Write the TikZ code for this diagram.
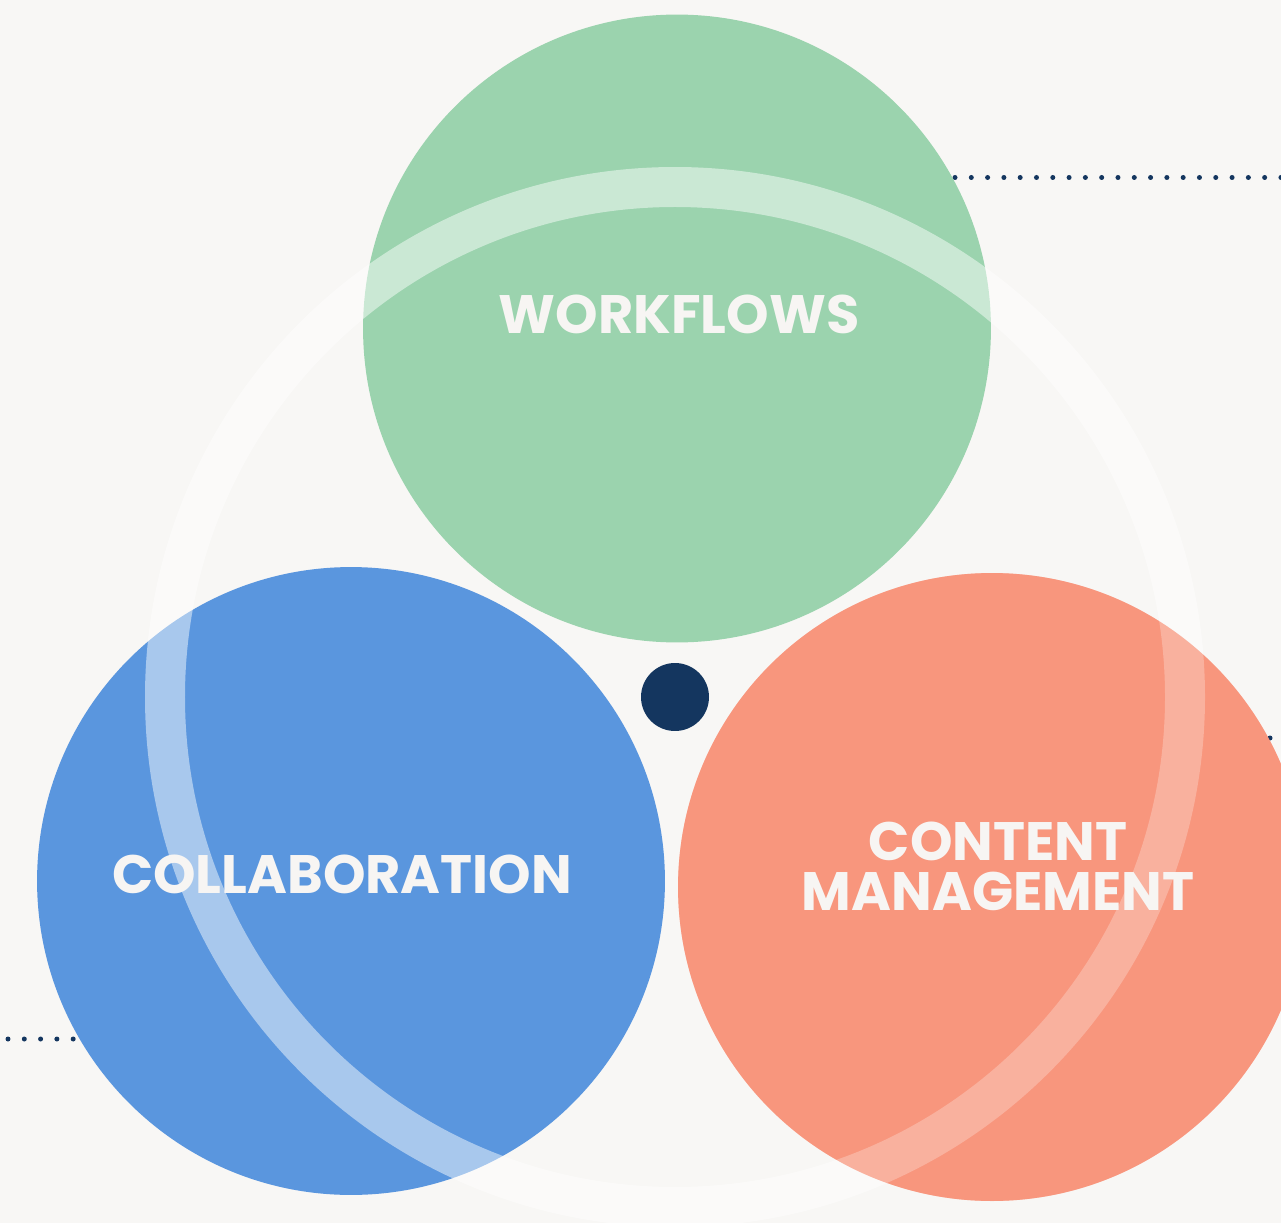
\documentclass[tikz,border=0pt]{standalone}
\usepackage{fontspec}
\newfontfamily\venfont{Poppins}
\definecolor{paper}{HTML}{F8F7F5}
\definecolor{wfgreen}{HTML}{9BD3AE}
\definecolor{coblue}{HTML}{5A96DE}
\definecolor{cmsalmon}{HTML}{F8967D}
\definecolor{hubnavy}{HTML}{14365F}
\definecolor{labelwhite}{HTML}{F7F5F3}
\tikzset{
  bubble/.style={circle, minimum size=12.56cm, inner sep=0pt},
  hubdot/.style={circle, fill=hubnavy, minimum size=1.36cm, inner sep=0pt},
  dotline/.style={hubnavy, line width=0.1cm, line cap=round, dash pattern=on 0pt off 0.326cm},
  venlabel/.style={text=labelwhite, align=center, inner sep=0pt,
    font=\venfont\bfseries\fontsize{30.8}{28.5}\selectfont}
}
\begin{document}
\begin{tikzpicture}[x=0.02cm, y=-0.02cm]
      \fill[paper] (0,0) rectangle (1281,1223);
      \useasboundingbox (0,0) rectangle (1281,1223);
      % dotted leaders, partly hidden behind the circles
      \coordinate (t1) at (955,177.5);
      \coordinate (t2) at (1295,177.5);
      \coordinate (r1) at (1270,738);
      \coordinate (r2) at (900,738);
      \coordinate (l1) at (8,1039);
      \coordinate (l2) at (300,1039);
      \draw[dotline] (t1) -- (t2);
      \draw[dotline] (r1) -- (r2);
      \draw[dotline] (l1) -- (l2);
      % the three circles
      \node[bubble, fill=wfgreen] (wf) at (677,328.5) {};
      \node[bubble, fill=coblue] (co) at (351,881) {};
      \node[bubble, fill=cmsalmon] (cm) at (992,887) {};
      % ring and hub
      \node[hubdot] (hub) at (675,697) {};
      \draw[white, opacity=0.48, line width=0.8cm] (hub.center) circle (510);
      % the ring shows fainter on the salmon circle
      \fill[cmsalmon, opacity=0.46] (cm.center) circle (314);
      % labels
      \node[venlabel] (wflabel) at (679,314) {WORKFLOWS};
      \node[venlabel] (colabel) at (342,874) {COLLABORATION};
      \node[venlabel] (cmlabel) at (998,866.5) {CONTENT\\MANAGEMENT};
    \end{tikzpicture}
\end{document}
